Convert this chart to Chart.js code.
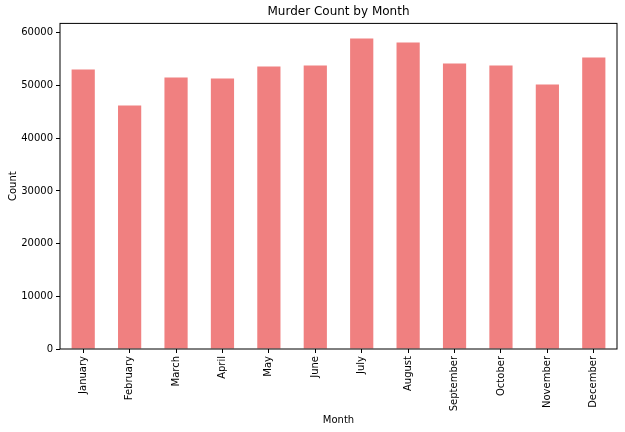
<!DOCTYPE html>
<html>
<head>
    <script src="https://cdn.jsdelivr.net/npm/chart.js@4/dist/chart.umd.min.js"></script>
    <style>
        html, body { margin: 0; padding: 0; background: #fff; }
        #wrap { width: 625px; height: 432px; }
    </style>
</head>
<body>
    <div id="wrap">
        <canvas id="myChart"></canvas>
    </div>

    <script type="text/javascript">
        // month counts
        const months = ['January', 'February', 'March', 'April', 'May', 'June',
            'July', 'August', 'September', 'October', 'November', 'December'];
        const counts = [53060, 46240, 51540, 51350, 53630, 53820,
            58920, 58170, 54190, 53820, 50210, 55330];
        const yTicks = [0, 10000, 20000, 30000, 40000, 50000, 60000];

        const font = 'DejaVu Sans';

        // box round the plot area, like the matplotlib spines
        const frame = {
            id: 'frame',
            afterDatasetsDraw(chart) {
                const a = chart.chartArea;
                const ctx = chart.ctx;
                ctx.save();
                ctx.strokeStyle = '#000';
                ctx.lineWidth = 1;
                ctx.strokeRect(a.left, a.top, a.right - a.left, a.bottom - a.top);
                ctx.restore();
            }
        };

        const config = {
            type: 'bar',
            data: {
                labels: months,
                datasets: [{
                    data: counts,
                    backgroundColor: '#f08080',
                    barPercentage: 0.5,
                    categoryPercentage: 1.0
                }]
            },
            options: {
                responsive: true,
                maintainAspectRatio: false,
                animation: false,
                layout: { padding: { left: 0, right: 8, top: 0, bottom: 0 } },
                plugins: {
                    legend: { display: false },
                    tooltip: { enabled: false },
                    title: {
                        display: true,
                        fullSize: false,
                        text: 'Murder Count by Month',
                        color: '#000',
                        font: { family: font, size: 12, weight: 'normal' },
                        padding: { top: 5, bottom: 4 }
                    }
                },
                scales: {
                    x: {
                        grid: { display: true, drawOnChartArea: false, offset: false,
                            color: '#000', tickLength: 4 },
                        border: { display: false },
                        ticks: { color: '#000', font: { family: font, size: 10 },
                            minRotation: 90, maxRotation: 90, autoSkip: false, padding: 3 },
                        title: { display: true, text: 'Month', color: '#000',
                            font: { family: font, size: 10 }, padding: { top: 0, bottom: 6 } },
                        afterFit(scale) { scale.height = 83; }
                    },
                    y: {
                        min: 0,
                        max: 61800,
                        grid: { display: true, drawOnChartArea: false, color: '#000', tickLength: 4 },
                        border: { display: false },
                        ticks: { color: '#000', font: { family: font, size: 10 }, padding: 3,
                            callback: v => String(v) },
                        title: { display: true, text: 'Count', color: '#000',
                            font: { family: font, size: 10 }, padding: { top: 7, bottom: 0 } },
                        afterBuildTicks(scale) {
                            scale.ticks = yTicks.map(v => ({ value: v }));
                        },
                        afterFit(scale) { scale.width = 60; }
                    }
                }
            },
            plugins: [frame]
        };

        const chart = new Chart(document.getElementById('myChart'), config);
    </script>
</body>
</html>
